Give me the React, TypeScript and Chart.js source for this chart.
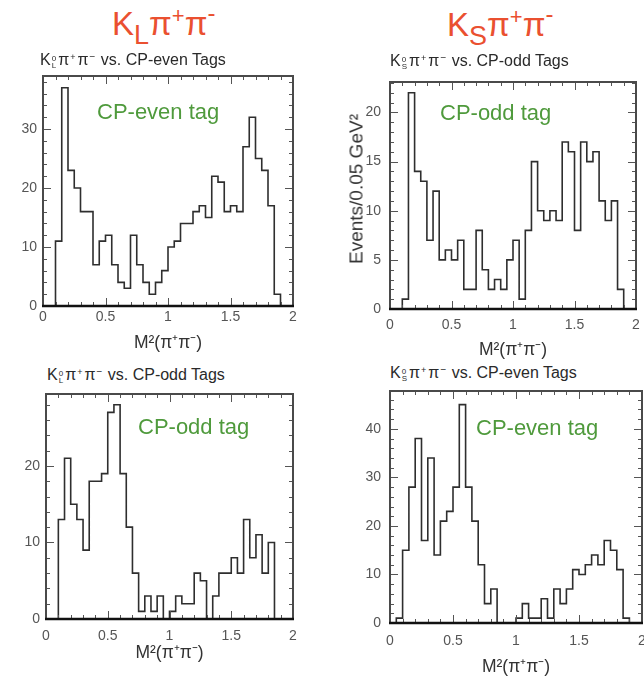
import React, { useEffect, useRef } from "react";
import { Chart, registerables } from "chart.js";

Chart.register(...registerables);

// ---------------- data (events per 0.05 GeV^2 bin, bins from 0 to 2) ----------------
const BIN_WIDTH = 0.05;
const X_TICKS = [0, 0.5, 1, 1.5, 2];
const X_MINOR_STEP = 0.1;

// K_L pi+ pi- vs CP-even tags
const klEvenCounts = [
  0, 0, 11, 37, 23, 20, 16, 16, 7, 11,
  12, 7, 4, 3, 12, 7, 4, 2, 4, 6,
  10, 11, 14, 14, 16, 17, 15, 22, 21, 16,
  17, 16, 27, 32, 25, 23, 17, 2, 0, 0,
];
const klEvenYTicks = [0, 10, 20, 30];

// K_S pi+ pi- vs CP-odd tags
const ksOddCounts = [
  0, 0, 1, 22, 14, 13, 7, 12, 5, 6,
  5, 7, 2, 2, 8, 4, 2, 3, 2, 5,
  7, 1, 8, 15, 10, 9, 10, 9, 17, 16,
  8, 17, 15, 16, 11, 9, 11, 2, 0, 0,
];
const ksOddYTicks = [0, 5, 10, 15, 20];

// K_L pi+ pi- vs CP-odd tags
const klOddCounts = [
  0, 0, 13, 21, 15, 13, 9, 18, 18, 19,
  27, 28, 19, 12, 6, 1, 3, 1, 3, 0,
  1, 3, 2, 2, 6, 5, 0, 3, 6, 6,
  8, 6, 13, 8, 11, 6, 10, 0, 0, 0,
];
const klOddYTicks = [0, 10, 20];

// K_S pi+ pi- vs CP-even tags
const ksEvenCounts = [
  0, 1, 15, 28, 38, 17, 34, 14, 21, 23,
  28, 45, 28, 21, 12, 4, 7, 0, 0, 0,
  1, 4, 1, 1, 5, 1, 7, 4, 7, 11,
  10, 12, 14, 12, 17, 15, 11, 1, 0, 0,
];
const ksEvenYTicks = [0, 10, 20, 30, 40];

// ---------------- styles ----------------
const FONT = "'Liberation Sans', Arial, Helvetica, sans-serif";
const RED = "#ea5030";
const GREEN = "#4f9a3c";
const TICK_COLOR = "#555555";
const TITLE_COLOR = "#333333";

type Rect = { l: number; t: number; w: number; h: number };
type Frame = { L: number; T: number; R: number; B: number };

type PanelProps = {
  values: number[];
  yTicks: number[];
  yMax: number;
  yMinor: number;
  canvas: Rect;
  frame: Frame;
  xTitleCenterY: number;
  xTickPad: number;
  yTickPad: number;
};

function makeFramePlugin(yTicks: number[], yMinor: number) {
  return {
    id: "histFrame",
    afterDatasetsDraw(chart: any) {
      const { ctx, chartArea: a, scales } = chart;
      const x = scales.x;
      const y = scales.y;
      ctx.save();
      ctx.strokeStyle = "#555";
      ctx.lineWidth = 1;
      ctx.beginPath();
      const xMin = X_TICKS[0];
      const xMax = X_TICKS[X_TICKS.length - 1];
      const nx = Math.round((xMax - xMin) / X_MINOR_STEP);
      for (let i = 0; i <= nx; i++) {
        const v = xMin + i * X_MINOR_STEP;
        const px = Math.round(x.getPixelForValue(v)) + 0.5;
        const major = X_TICKS.some((t) => Math.abs(t - v) < 1e-6);
        const len = major ? 8 : 4;
        ctx.moveTo(px, a.bottom);
        ctx.lineTo(px, a.bottom - len);
        ctx.moveTo(px, a.top);
        ctx.lineTo(px, a.top + len);
      }
      const ny = Math.floor(y.max / yMinor + 1e-6);
      for (let i = 0; i <= ny; i++) {
        const v = i * yMinor;
        const py = Math.round(y.getPixelForValue(v)) + 0.5;
        const major = yTicks.some((t) => Math.abs(t - v) < 1e-6);
        const len = major ? 8 : 4;
        ctx.moveTo(a.left, py);
        ctx.lineTo(a.left + len, py);
        ctx.moveTo(a.right, py);
        ctx.lineTo(a.right - len, py);
      }
      ctx.stroke();
      ctx.lineWidth = 2;
      ctx.strokeStyle = "#4a4a4a";
      ctx.strokeRect(a.left, a.top, a.right - a.left, a.bottom - a.top);
      ctx.beginPath();
      ctx.strokeStyle = "#111";
      ctx.lineWidth = 2.5;
      ctx.moveTo(a.left - 1, a.bottom);
      ctx.lineTo(a.right + 1, a.bottom);
      ctx.stroke();
      ctx.restore();
    },
  };
}

function HistPanel(p: PanelProps) {
  const ref = useRef<HTMLCanvasElement | null>(null);
  useEffect(() => {
    if (!ref.current) return;
    const points = p.values.map((v, i) => ({ x: i * BIN_WIDTH, y: v }));
    points.push({ x: p.values.length * BIN_WIDTH, y: 0 });

    const padTop = p.frame.T - p.canvas.t;
    const padRight = p.canvas.l + p.canvas.w - p.frame.R;
    const yWidth = p.frame.L - p.canvas.l;
    const xHeight = p.canvas.t + p.canvas.h - p.frame.B;
    const xTitleFont = 17.5;
    const xTitlePadBottom = p.canvas.t + p.canvas.h - p.xTitleCenterY - (xTitleFont * 1.2) / 2;

    const chart = new Chart(ref.current, {
      type: "line",
      data: {
        datasets: [
          {
            data: points,
            stepped: "before",
            borderColor: "#2e2e2e",
            borderWidth: 1.6,
            pointRadius: 0,
            fill: false,
          } as any,
        ],
      },
      options: {
        animation: false,
        responsive: false,
        maintainAspectRatio: false,
        events: [],
        layout: { padding: { left: 0, top: padTop, right: padRight, bottom: 0 } },
        plugins: {
          legend: { display: false },
          tooltip: { enabled: false },
          title: { display: false },
        },
        scales: {
          x: {
            type: "linear",
            min: X_TICKS[0],
            max: X_TICKS[X_TICKS.length - 1],
            afterBuildTicks: (s: any) => {
              s.ticks = X_TICKS.map((v) => ({ value: v }));
            },
            afterFit: (s: any) => {
              s.height = xHeight;
              s.paddingLeft = 0;
              s.paddingRight = 0;
            },
            grid: { display: false, drawTicks: false },
            border: { display: false },
            ticks: {
              color: TICK_COLOR,
              font: { family: FONT, size: 14 },
              padding: p.xTickPad,
              maxRotation: 0,
              autoSkip: false,
              callback: (v: any) => String(v),
            },
            title: {
              display: true,
              text: "M²(π⁺π⁻)",
              color: TITLE_COLOR,
              font: { family: FONT, size: xTitleFont },
              padding: { top: 0, bottom: xTitlePadBottom },
            },
          },
          y: {
            type: "linear",
            min: 0,
            max: p.yMax,
            afterBuildTicks: (s: any) => {
              s.ticks = p.yTicks.map((v) => ({ value: v }));
            },
            afterFit: (s: any) => {
              s.width = yWidth;
              s.paddingTop = 0;
              s.paddingBottom = 0;
            },
            grid: { display: false, drawTicks: false },
            border: { display: false },
            ticks: {
              color: TICK_COLOR,
              font: { family: FONT, size: 14 },
              padding: p.yTickPad,
              autoSkip: false,
              callback: (v: any) => String(v),
            },
            title: { display: false },
          },
        },
      } as any,
      plugins: [makeFramePlugin(p.yTicks, p.yMinor) as any],
    });
    return () => chart.destroy();
  }, []);
  return (
    <canvas
      ref={ref}
      width={p.canvas.w}
      height={p.canvas.h}
      style={{
        position: "absolute",
        left: p.canvas.l,
        top: p.canvas.t,
        width: p.canvas.w,
        height: p.canvas.h,
      }}
    />
  );
}

function BigTitle({ left, top, sub }: { left: number; top: number; sub: string }) {
  return (
    <div
      style={{
        position: "absolute",
        left,
        top,
        fontFamily: FONT,
        fontSize: 33,
        lineHeight: "33px",
        color: RED,
        whiteSpace: "nowrap",
      }}
    >
      K
      <span style={{ fontSize: 27, position: "relative", top: 9, lineHeight: 0 }}>{sub}</span>
      π
      <span style={{ fontSize: 22, position: "relative", top: -12, lineHeight: 0 }}>+</span>
      π
      <span style={{ fontSize: 24, position: "relative", top: -14, lineHeight: 0 }}>-</span>
    </div>
  );
}

function SubTitle({ left, top, sub, tag }: { left: number; top: number; sub: string; tag: string }) {
  return (
    <div
      style={{
        position: "absolute",
        left,
        top,
        fontFamily: FONT,
        fontSize: 16,
        lineHeight: "16px",
        color: "#2a2a2a",
        whiteSpace: "nowrap",
      }}
    >
      K
      <span
        style={{
          display: "inline-block",
          fontSize: 8,
          lineHeight: "7px",
          verticalAlign: "-3px",
          marginLeft: 1,
          marginRight: 2,
        }}
      >
        <span style={{ display: "block" }}>0</span>
        <span style={{ display: "block" }}>{sub}</span>
      </span>
      π
      <span style={{ fontSize: 9, position: "relative", top: -5, lineHeight: 0, margin: "0 2px 0 1px" }}>+</span>
      π
      <span style={{ fontSize: 10, position: "relative", top: -5, lineHeight: 0, margin: "0 1px 0 1px" }}>−</span>
      {" vs. " + tag + " Tags"}
    </div>
  );
}

function TagLabel({ left, top, text }: { left: number; top: number; text: string }) {
  return (
    <div
      style={{
        position: "absolute",
        left,
        top,
        fontFamily: FONT,
        fontSize: 22,
        lineHeight: "22px",
        color: GREEN,
        whiteSpace: "nowrap",
      }}
    >
      {text}
    </div>
  );
}

function YTitle({ cx, cy, text }: { cx: number; cy: number; text: string }) {
  return (
    <div
      style={{
        position: "absolute",
        left: cx,
        top: cy,
        width: 0,
        height: 0,
        overflow: "visible",
      }}
    >
      <div
        style={{
          position: "absolute",
          left: 0,
          top: 0,
          transform: "translate(-50%, -50%) rotate(-90deg)",
          fontFamily: FONT,
          fontSize: 19,
          lineHeight: "19px",
          color: TITLE_COLOR,
          whiteSpace: "nowrap",
        }}
      >
        {text}
      </div>
    </div>
  );
}

export default function App() {
  return (
    <div
      style={{
        position: "absolute",
        left: 0,
        top: 0,
        width: 644,
        height: 677,
        overflow: "hidden",
        background: "#ffffff",
      }}
    >
      <HistPanel
        values={klEvenCounts}
        yTicks={klEvenYTicks}
        yMax={39}
        yMinor={2}
        canvas={{ l: 0, t: 66, w: 322, h: 294 }}
        frame={{ L: 43, T: 76, R: 293, B: 306 }}
        xTitleCenterY={343}
        xTickPad={3}
        yTickPad={6}
      />
      <HistPanel
        values={ksOddCounts}
        yTicks={ksOddYTicks}
        yMax={23.1}
        yMinor={1}
        canvas={{ l: 322, t: 66, w: 322, h: 294 }}
        frame={{ L: 390, T: 82, R: 636, B: 309 }}
        xTitleCenterY={350}
        xTickPad={7.5}
        yTickPad={9}
      />
      <HistPanel
        values={klOddCounts}
        yTicks={klOddYTicks}
        yMax={29.4}
        yMinor={2}
        canvas={{ l: 0, t: 385, w: 322, h: 292 }}
        frame={{ L: 46, T: 394, R: 293, B: 619 }}
        xTitleCenterY={653}
        xTickPad={9}
        yTickPad={6}
      />
      <HistPanel
        values={ksEvenCounts}
        yTicks={ksEvenYTicks}
        yMax={47.8}
        yMinor={2}
        canvas={{ l: 322, t: 385, w: 322, h: 292 }}
        frame={{ L: 390, T: 391, R: 642, B: 623 }}
        xTitleCenterY={667}
        xTickPad={10}
        yTickPad={9}
      />

      <YTitle cx={356} cy={189} text="Events/0.05 GeV²" />

      <BigTitle left={112} top={7} sub="L" />
      <BigTitle left={447} top={8} sub="S" />

      <SubTitle left={40} top={52} sub="L" tag="CP-even" />
      <SubTitle left={390} top={53} sub="S" tag="CP-odd" />
      <SubTitle left={47} top={367} sub="L" tag="CP-odd" />
      <SubTitle left={390} top={365} sub="S" tag="CP-even" />

      <TagLabel left={97} top={101} text="CP-even tag" />
      <TagLabel left={440} top={102} text="CP-odd tag" />
      <TagLabel left={138} top={416} text="CP-odd tag" />
      <TagLabel left={476} top={417} text="CP-even tag" />
    </div>
  );
}
